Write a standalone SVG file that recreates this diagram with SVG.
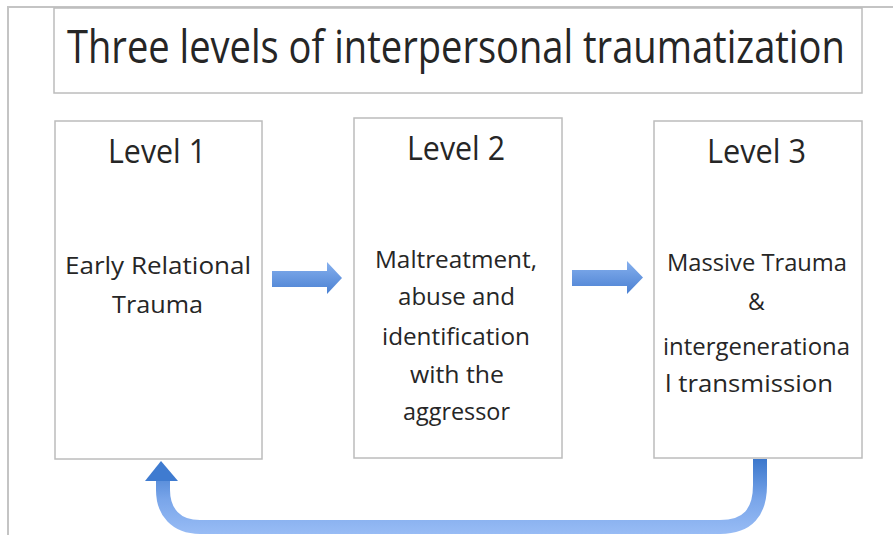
<svg xmlns="http://www.w3.org/2000/svg" width="893" height="535" viewBox="0 0 893 535">
<style>
.box{fill:#fff;stroke:#bcbcbc;stroke-width:1.5}
.t{font-family:"Open Sans","Liberation Sans",sans-serif;fill:#262626;text-anchor:start}
.lvl{font-size:32px}
.body{font-size:23px}
</style>
<defs>
<linearGradient id="ha" x1="0" y1="0" x2="0" y2="1">
<stop offset="0" stop-color="#86b0ee"/>
<stop offset="1" stop-color="#4a80d2"/>
</linearGradient>
<linearGradient id="ua" gradientUnits="userSpaceOnUse" x1="0" y1="459" x2="0" y2="534">
<stop offset="0" stop-color="#3b77cc"/>
<stop offset="0.55" stop-color="#7aa6ea"/>
<stop offset="1" stop-color="#98bcf5"/>
</linearGradient>
</defs>
<rect width="893" height="535" fill="#fff"/>
<path d="M8 535 V7 H893" fill="none" stroke="#c4c4c4" stroke-width="2"/>
<g id="title">
<rect x="54" y="8" width="808" height="85" class="box"/>
<text class="t" transform="translate(67,63) scale(0.75,1)" x="0" y="0" font-size="46" textLength="1037" lengthAdjust="spacingAndGlyphs">Three levels of interpersonal traumatization</text>
</g>
<g id="level1">
<rect x="55" y="121" width="207" height="338" class="box"/>
<text class="t lvl" x="108" y="163" textLength="98" lengthAdjust="spacingAndGlyphs">Level 1</text>
<text class="t body" x="65" y="274" textLength="186" lengthAdjust="spacingAndGlyphs">Early Relational</text>
<text class="t body" x="112" y="313" textLength="91" lengthAdjust="spacingAndGlyphs">Trauma</text>
</g>
<g id="level2">
<rect x="354" y="118" width="208" height="340" class="box"/>
<text class="t lvl" x="407" y="160" textLength="98" lengthAdjust="spacingAndGlyphs">Level 2</text>
<text class="t body" x="375" y="268" textLength="162" lengthAdjust="spacingAndGlyphs">Maltreatment,</text>
<text class="t body" x="398" y="305" textLength="117" lengthAdjust="spacingAndGlyphs">abuse and</text>
<text class="t body" x="382" y="345" textLength="148" lengthAdjust="spacingAndGlyphs">identification</text>
<text class="t body" x="410" y="383" textLength="94" lengthAdjust="spacingAndGlyphs">with the</text>
<text class="t body" x="403" y="420" textLength="107" lengthAdjust="spacingAndGlyphs">aggressor</text>
</g>
<g id="level3">
<rect x="654" y="121" width="208" height="337" class="box"/>
<text class="t lvl" x="707" y="163" textLength="99" lengthAdjust="spacingAndGlyphs">Level 3</text>
<text class="t body" x="667" y="271" textLength="180" lengthAdjust="spacingAndGlyphs">Massive Trauma</text>
<text class="t body" x="748" y="310">&amp;</text>
<text class="t body" x="663" y="355" textLength="187" lengthAdjust="spacingAndGlyphs">intergenerationa</text>
<text class="t body" x="665" y="392" textLength="168" lengthAdjust="spacingAndGlyphs">l transmission</text>
</g>
<g id="connectors">
<polygon points="272,271 327,271 327,262 342,278 327,294 327,287 272,287" fill="url(#ha)"/>
<polygon points="572,270 627,270 627,261 643,277.5 627,294 627,286 572,286" fill="url(#ha)"/>
<path d="M760 459 V485 C760 512 748 527 720 527 H200 C176 527 163 512 163 490 V479" fill="none" stroke="url(#ua)" stroke-width="14"/>
<polygon points="145,481 161,461 178,481" fill="#3f7bd0"/>
</g>
</svg>
